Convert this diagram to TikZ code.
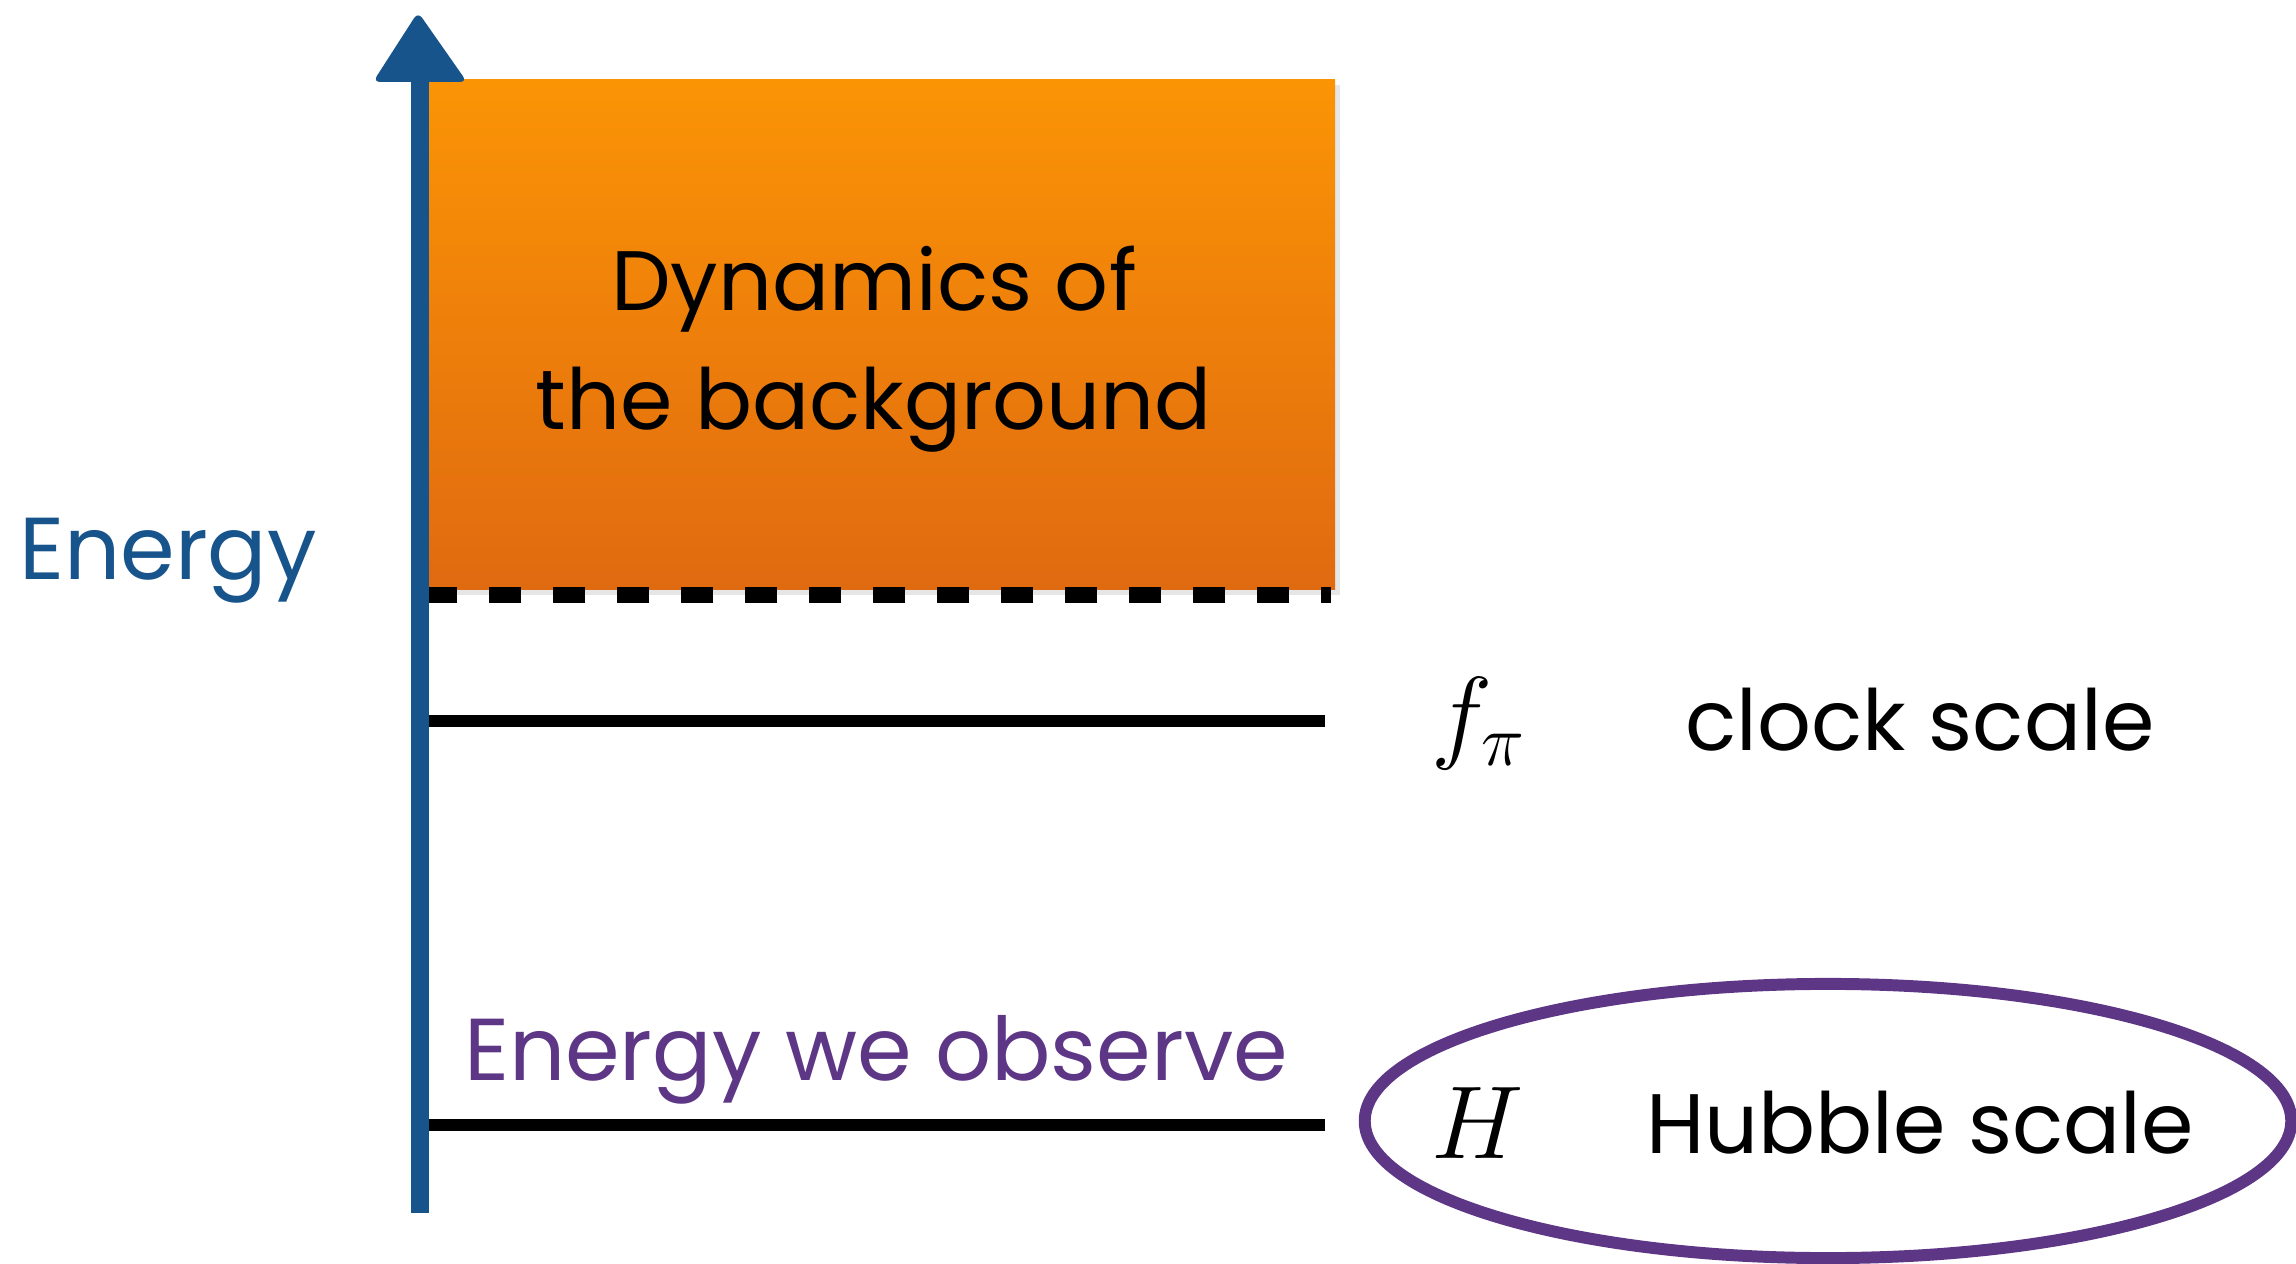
\documentclass[tikz,border=0pt]{standalone}
\usepackage{fix-cm}
\usepackage{fontspec}
\setsansfont{Poppins}
\usetikzlibrary{shadows}
\definecolor{axisblue}{RGB}{24,84,140}
\definecolor{otop}{RGB}{251,148,5}
\definecolor{obot}{RGB}{224,106,16}
\definecolor{purp}{RGB}{94,54,134}
\begin{document}
\begin{tikzpicture}[x=0.01cm,y=-0.01cm,
  lbl/.style={font=\sffamily\fontsize{24}{34}\selectfont, inner sep=0pt},
  biglbl/.style={font=\sffamily\fontsize{25}{34}\selectfont, inner sep=0pt},
  mth/.style={font=\fontsize{29.5}{34}\selectfont, inner sep=0pt},
  scaleline/.style={line width=3.4pt, black},
  dashline/.style={line width=4.3pt, black, dash pattern=on 9.1pt off 9.1pt}]
\useasboundingbox (0,0) rectangle (2296,1264);
% background dynamics box
\path[top color=otop, bottom color=obot,
  drop shadow={opacity=0.2, shadow xshift=1.5pt, shadow yshift=-1.5pt}]
  (420,80) rectangle (1335,590);
\node[lbl, align=center] (dyn) at (874,349) {Dynamics of\\the background};
% scale lines
\coordinate (d1) at (425,595); \coordinate (d2) at (1331,595);
\draw[dashline] (d1) -- (d2);
\coordinate (f1) at (425,721); \coordinate (f2) at (1325,721);
\draw[scaleline] (f1) -- (f2);
\coordinate (h1) at (425,1125); \coordinate (h2) at (1325,1125);
\draw[scaleline] (h1) -- (h2);
% energy axis
\coordinate (axb) at (420,1213); \coordinate (axt) at (420,70);
\draw[axisblue, line width=5.1pt] (axb) -- (axt);
\fill[axisblue, rounded corners=2pt] (418,12) -- (467,82) -- (373,82) -- cycle;
\node[biglbl, text=axisblue] (energy) at (168,561) {Energy};
% labels
\node[mth] (fpi) at (1479,724) {$f_\pi$};
\node[lbl] (clock) at (1920,720) {clock scale};
\node[biglbl, text=purp] (obs) at (876,1060) {Energy we observe};
\node[mth] (H) at (1478,1123) {$H$};
\node[lbl] (hub) at (1920,1123) {Hubble scale};
\draw[purp, line width=3.4pt] (1828,1121) ellipse [x radius=4.63cm, y radius=1.37cm];
\end{tikzpicture}
\end{document}
